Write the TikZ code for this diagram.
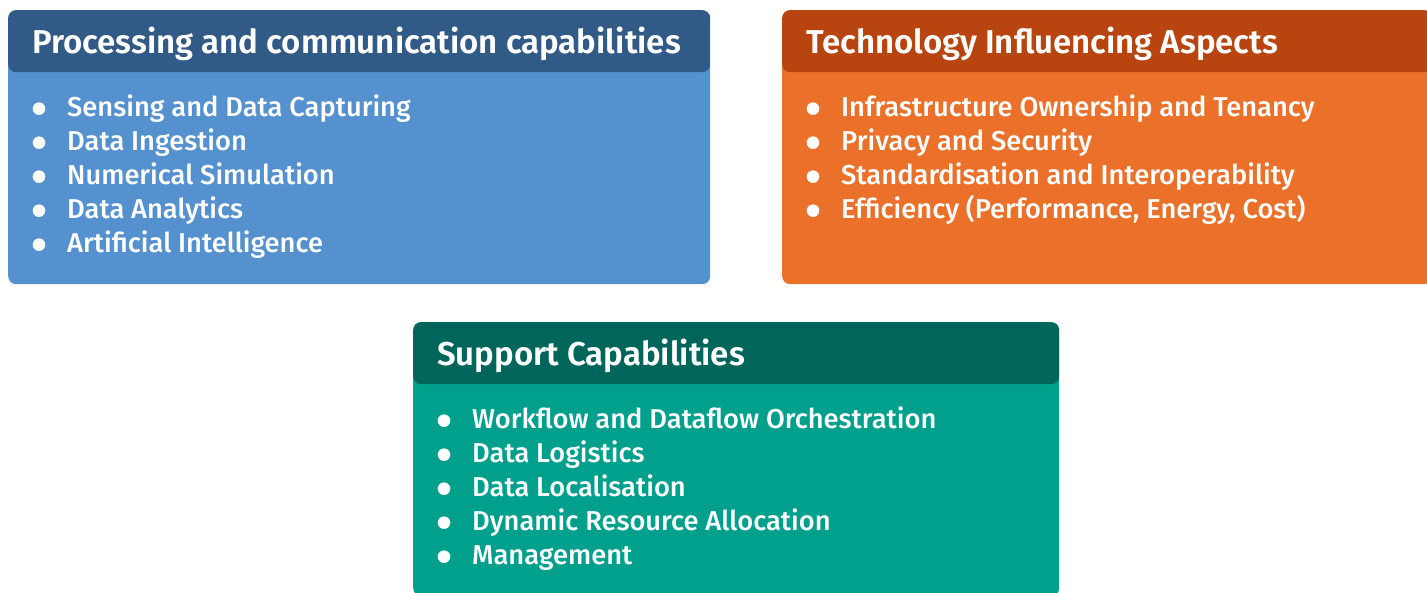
\documentclass[tikz,border=0pt]{standalone}
\usepackage{fontspec}
\setmainfont{Fira Sans}[BoldFont={Fira Sans SemiBold}]
\newfontfamily\itemfont{Fira Sans Medium}
\usetikzlibrary{positioning}

\definecolor{procHead}{RGB}{50,90,135}
\definecolor{procBody}{RGB}{85,145,206}
\definecolor{techHead}{RGB}{184,68,15}
\definecolor{techBody}{RGB}{235,113,42}
\definecolor{suppHead}{RGB}{0,102,92}
\definecolor{suppBody}{RGB}{0,160,140}

\newcommand{\bul}{\makebox[35pt][l]{\hspace{0.5pt}\raisebox{2pt}{\tikz\fill[white] circle (6.3pt);}}}

\tikzset{
  capbox/.style args={#1/#2}{rectangle, rounded corners=8pt, fill=#2,
    minimum width=#1, minimum height=274pt, anchor=north west, inner sep=0pt},
  captitle/.style={anchor=base west, inner sep=0pt, text=white, font=\fontsize{33}{38}\selectfont\bfseries},
  caplist/.style={anchor=north west, inner sep=0pt, text=white, align=left, font=\itemfont\fontsize{27.3}{34}\selectfont}
}

\begin{document}
\begin{tikzpicture}[x=1pt,y=-1pt]
    \useasboundingbox (0,0) rectangle (1427,593);
    % boxes
    \node[capbox=702pt/procBody, path picture={\fill[procHead] (path picture bounding box.north west) rectangle ([yshift=-62pt]path picture bounding box.north east);}] (proc) at (8,10) {};
    \node[capbox=650pt/techBody, path picture={\fill[techHead] (path picture bounding box.north west) rectangle ([yshift=-62pt]path picture bounding box.north east);}] (tech) at (782,10) {};
    \node[capbox=646pt/suppBody, path picture={\fill[suppHead] (path picture bounding box.north west) rectangle ([yshift=-62pt]path picture bounding box.north east);}] (supp) at (413,322) {};
    % titles
    \node[captitle] (procT) at ([xshift=24pt,yshift=-44pt]proc.north west) {Processing and communication capabilities};
    \node[captitle] (techT) at ([xshift=24pt,yshift=-44pt]tech.north west) {Technology Influencing Aspects};
    \node[captitle] (suppT) at ([xshift=24pt,yshift=-44pt]supp.north west) {Support Capabilities};
    % lists
    \node[caplist] (procL) at ([xshift=24pt,yshift=-85pt]proc.north west) {%
        \bul Sensing and Data Capturing\\
        \bul Data Ingestion\\
        \bul Numerical Simulation\\
        \bul Data Analytics\\
        \bul Artificial Intelligence};
    \node[caplist] (techL) at ([xshift=24pt,yshift=-85pt]tech.north west) {%
        \bul Infrastructure Ownership and Tenancy\\
        \bul Privacy and Security\\
        \bul Standardisation and Interoperability\\
        \bul Efficiency (Performance, Energy, Cost)};
    \node[caplist] (suppL) at ([xshift=24pt,yshift=-85pt]supp.north west) {%
        \bul Workflow and Dataflow Orchestration\\
        \bul Data Logistics\\
        \bul Data Localisation\\
        \bul Dynamic Resource Allocation\\
        \bul Management};
\end{tikzpicture}
\end{document}
